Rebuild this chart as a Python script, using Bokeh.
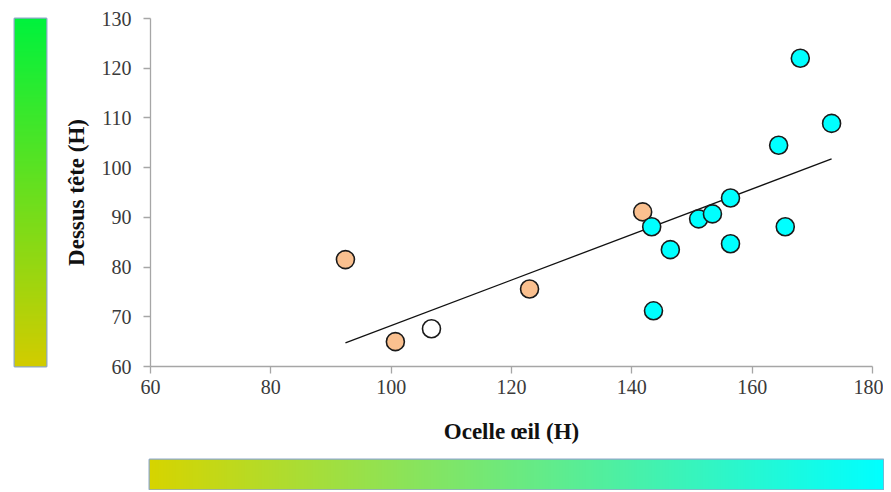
import numpy as np
from bokeh.plotting import figure
from bokeh.layouts import row, column
from bokeh.models import Range1d, FixedTicker, LinearColorMapper, ColumnDataSource
from bokeh.embed import file_html
from bokeh.resources import INLINE

# ---- data ----
ocelle = [92.4, 100.7, 123.0, 141.8, 106.7,
          143.3, 143.6, 146.4, 151.1, 153.4, 156.4, 156.4, 164.4, 165.5, 168.0, 173.2]
dessus = [81.5, 65.0, 75.6, 91.1, 67.6,
          88.1, 71.2, 83.5, 89.7, 90.7, 93.9, 84.7, 104.5, 88.1, 122.0, 108.9]
groupe = ["A", "A", "A", "A", "B",
          "C", "C", "C", "C", "C", "C", "C", "C", "C", "C", "C"]
couleurs_groupe = {"A": "#FAC08F", "B": "#FFFFFF", "C": "#00FFFF"}

x_ticks = [60, 80, 100, 120, 140, 160, 180]
y_ticks = [60, 70, 80, 90, 100, 110, 120, 130]


def gradient(c0, c1, n=256):
    a = np.array([int(c0[i:i + 2], 16) for i in (1, 3, 5)], dtype=float)
    b = np.array([int(c1[i:i + 2], 16) for i in (1, 3, 5)], dtype=float)
    out = []
    for t in np.linspace(0, 1, n):
        c = (a + (b - a) * t).round().astype(int)
        out.append("#%02x%02x%02x" % tuple(c))
    return out


SERIF = "Liberation Serif"
AXIS_GREY = "#A6A6A6"
BAR_EDGE = "#8FA9C9"

# ---- left gradient bar ----
H_MAIN = 458
left = figure(width=48, height=H_MAIN, output_backend="svg", toolbar_location=None,
              x_range=Range1d(0, 1), y_range=Range1d(0, 1),
              x_axis_location=None, y_axis_location=None,
              min_border_left=14, min_border_right=2, min_border_top=13,
              min_border_bottom=H_MAIN - 366)
left.grid.visible = False
left.outline_line_color = BAR_EDGE
left.outline_line_width = 2
vmap = LinearColorMapper(palette=gradient("#D2CC00", "#00F23C"), low=0, high=1)
left.image(image=[np.linspace(0, 1, 256).reshape(256, 1)], x=0, y=0, dw=1, dh=1,
           color_mapper=vmap)

# ---- main scatter ----
p = figure(width=835, height=H_MAIN, output_backend="svg", toolbar_location=None,
           x_range=Range1d(60, 180), y_range=Range1d(60, 130),
           min_border_left=102, min_border_right=11, min_border_top=18,
           min_border_bottom=91)
p.grid.visible = False
p.outline_line_color = None

src = ColumnDataSource(dict(x=ocelle, y=dessus,
                            c=[couleurs_groupe[g] for g in groupe]))

coef = np.polyfit(ocelle, dessus, 1)
xl = np.array([min(ocelle), max(ocelle)])
p.line(xl, np.polyval(coef, xl), line_color="#111111", line_width=1.3)

p.scatter("x", "y", source=src, size=18, fill_color="c",
          line_color="#1A1A1A", line_width=1.6)

for ax, ticks in ((p.xaxis[0], x_ticks), (p.yaxis[0], y_ticks)):
    ax.ticker = FixedTicker(ticks=ticks)
    ax.axis_line_color = AXIS_GREY
    ax.axis_line_width = 1.3
    ax.major_tick_line_color = AXIS_GREY
    ax.major_tick_line_width = 1.3
    ax.major_tick_out = 7
    ax.major_tick_in = 0
    ax.minor_tick_line_color = None
    ax.major_label_text_font = SERIF
    ax.major_label_text_font_size = "20px"
    ax.major_label_text_color = "#3A3A3A"
    ax.axis_label_text_font = SERIF
    ax.axis_label_text_font_style = "bold"
    ax.axis_label_text_font_size = "23px"
    ax.axis_label_text_color = "#111111"

p.xaxis.axis_label = "Ocelle œil (H)"
p.yaxis.axis_label = "Dessus tête (H)"
p.xaxis.major_label_standoff = 6
p.xaxis.axis_label_standoff = 22
p.yaxis.major_label_standoff = 12
p.yaxis.axis_label_standoff = 10

# ---- bottom gradient bar ----
bottom = figure(width=884, height=32, output_backend="svg", toolbar_location=None,
                x_range=Range1d(0, 1), y_range=Range1d(0, 1),
                x_axis_location=None, y_axis_location=None,
                min_border_left=149, min_border_right=1, min_border_top=1,
                min_border_bottom=1)
bottom.grid.visible = False
bottom.outline_line_color = BAR_EDGE
bottom.outline_line_width = 2
hmap = LinearColorMapper(palette=gradient("#D6D400", "#00FFFF"), low=0, high=1)
bottom.image(image=[np.linspace(0, 1, 256).reshape(1, 256)], x=0, y=0, dw=1, dh=1,
             color_mapper=hmap)

layout = column(row(left, p), bottom)

open("out.html", "w").write(file_html(layout, INLINE))
